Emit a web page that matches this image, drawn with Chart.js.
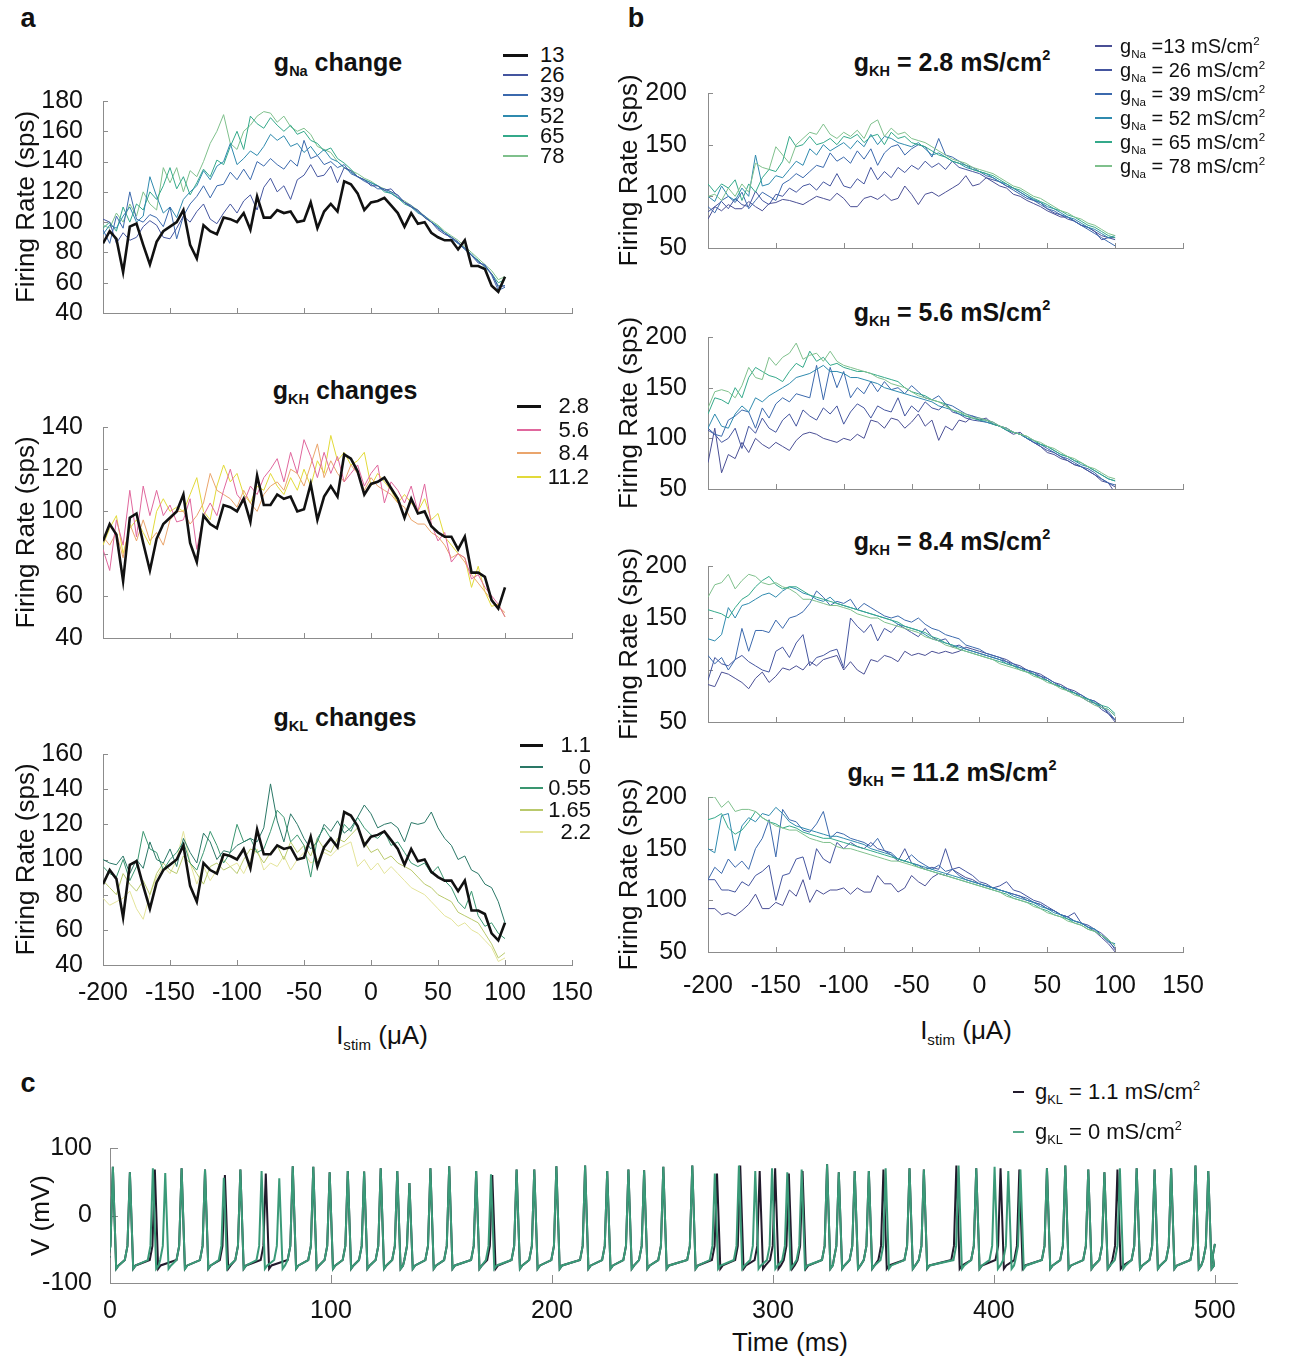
<!DOCTYPE html>
<html>
<head>
<meta charset="utf-8">
<script src="https://cdn.jsdelivr.net/npm/chart.js@4"></script>
<style>
  body { margin: 0; background: #fff; width: 1291px; height: 1358px; position: relative; overflow: hidden;
         font-family: "Liberation Sans", Arial, sans-serif; color: #111; }
  .box { position: absolute; }
  .txt { position: absolute; white-space: nowrap; line-height: 1; }
  .c { transform: translate(-50%, -50%); }
  .ttl { font-weight: bold; font-size: 25px; }
  .lab { font-weight: bold; font-size: 27px; }
  sub { font-size: 0.58em; vertical-align: -0.4em; line-height: 0; }
  sup { font-size: 0.58em; vertical-align: 0.7em; line-height: 0; }
</style>
</head>
<body>

<div class="txt lab c" style="left:28px;top:18px">a</div>
<div class="txt lab c" style="left:636px;top:18px">b</div>
<div class="txt lab c" style="left:28px;top:1083px">c</div>

<div class="txt ttl c" style="left:338px;top:62px">g<sub>Na</sub> change</div>
<div class="txt ttl c" style="left:345px;top:390px">g<sub>KH</sub> changes</div>
<div class="txt ttl c" style="left:345px;top:717px">g<sub>KL</sub> changes</div>
<div class="txt ttl c" style="left:952px;top:62px">g<sub>KH</sub> = 2.8 mS/cm<sup>2</sup></div>
<div class="txt ttl c" style="left:952px;top:312px">g<sub>KH</sub> = 5.6 mS/cm<sup>2</sup></div>
<div class="txt ttl c" style="left:952px;top:541px">g<sub>KH</sub> = 8.4 mS/cm<sup>2</sup></div>
<div class="txt ttl c" style="left:952px;top:772px">g<sub>KH</sub> = 11.2 mS/cm<sup>2</sup></div>

<div class="txt c" style="left:382px;top:1035px;font-size:26px">I<sub>stim</sub> (μA)</div>
<div class="txt c" style="left:966px;top:1030px;font-size:26px">I<sub>stim</sub> (μA)</div>
<div class="txt c" style="left:790px;top:1342px;font-size:26px">Time (ms)</div>

<div class="box" id="boxA1"><canvas id="chartA1"></canvas></div>
<div class="box" id="boxA2"><canvas id="chartA2"></canvas></div>
<div class="box" id="boxA3"><canvas id="chartA3"></canvas></div>
<div class="box" id="boxB1"><canvas id="chartB1"></canvas></div>
<div class="box" id="boxB2"><canvas id="chartB2"></canvas></div>
<div class="box" id="boxB3"><canvas id="chartB3"></canvas></div>
<div class="box" id="boxB4"><canvas id="chartB4"></canvas></div>
<div class="box" id="boxC"><canvas id="chartC"></canvas></div>

<script>
// ---------- Data ----------
const I_STIM = [-200,-195,-190,-185,-180,-175,-170,-165,-160,-155,
  -150,-145,-140,-135,-130,-125,-120,-115,-110,-105,
  -100,-95,-90,-85,-80,-75,-70,-65,-60,-55,
  -50,-45,-40,-35,-30,-25,-20,-15,-10,-5,
  0,5,10,15,20,25,30,35,40,45,
  50,55,60,65,70,75,80,85,90,95,
  100];

// tick labels
const X_TICKS_RATE = [-200, -150, -100, -50, 0, 50, 100, 150];
const Y_TICKS_A1 = [40, 60, 80, 100, 120, 140, 160, 180];
const Y_TICKS_A2 = [40, 60, 80, 100, 120, 140];
const Y_TICKS_A3 = [40, 60, 80, 100, 120, 140, 160];
const Y_TICKS_B = [50, 100, 150, 200];
const X_TICKS_TIME = [0, 100, 200, 300, 400, 500];
const Y_TICKS_V = [-100, 0, 100];

// default model (gNa 13, gKH 2.8, gKL 1.1) - black line in panel a
const rateDefault = [86,94,89,67,97,99,85,72,87,94,
  97,100,108,85,76,98,94,92,103,102,
  100,106,95,117,103,103,108,106,107,100,
  101,113,96,107,112,107,127,125,119,108,
  113,114,116,111,106,97,106,99,100,93,
  90,88,88,82,88,71,71,69,58,54,
  64];

// panel a, gNa changes
const a1Na26 = [102,100,86,93,88,90,97,101,98,90, 89,96,104,100,107,112,102,99,106,112,
  106,114,118,108,123,129,120,124,115,128, 131,138,130,131,137,126,136,134,130,128,
  124,124,121,122,117,113,110,108,103,100, 95,92,90,87,82,78,74,71,66,57, 58];
const a1Na39 = [95,86,104,96,120,102,100,105,103,97, 110,89,104,112,117,124,116,124,125,133,
  128,135,128,140,137,142,138,135,141,137, 154,142,144,138,140,136,138,132,130,127,
  125,122,122,120,118,113,111,107,104,100, 96,93,89,86,83,78,73,72,65,55, 57];
const a1Na52 = [92,98,96,104,110,100,104,130,117,106, 110,103,115,120,124,134,128,137,140,152,
  138,142,147,144,150,158,154,157,150,152, 146,150,144,148,142,140,136,133,130,128,
  126,124,121,119,116,113,110,106,104,100, 97,93,90,86,82,79,74,71,66,58, 58];
const a1Na65 = [96,100,94,110,100,112,108,120,115,124, 136,122,130,118,126,135,130,141,138,150,
  160,148,170,165,162,169,164,160,164,158, 160,154,152,147,149,142,139,135,130,128,
  126,124,120,119,116,112,110,107,103,100, 97,93,90,86,83,78,75,70,66,60, 62];
const a1Na78 = [98,96,106,100,112,104,120,112,108,136, 126,136,120,134,130,140,152,160,171,152,
  148,160,164,170,173,172,166,170,163,160, 162,158,150,148,146,140,136,134,132,129,
  127,124,122,120,116,114,111,108,104,101, 98,94,91,88,84,80,76,72,68,62, 64];

// panel a, gKH changes
const a2KH56 = [82,72,96,84,110,88,112,98,110,98, 103,95,96,106,82,98,104,98,110,120,
  108,104,112,108,116,120,125,114,128,118, 134,126,116,128,118,126,114,118,122,112,
  118,122,104,114,110,104,112,100,113,94, 86,90,76,80,78,68,70,64,60,56, 50];
const a2KH84 = [88,84,90,78,94,86,96,86,90,84, 96,100,100,94,98,104,118,110,108,106,
  102,110,104,100,108,112,114,110,120,118, 112,122,132,116,124,118,114,122,118,110,
  116,112,110,108,104,102,96,94,94,90, 88,84,78,80,76,70,66,62,58,55, 52];
const a2KH112 = [84,92,98,80,92,96,90,84,100,106, 100,102,100,108,116,100,96,112,122,114,
  118,108,104,112,110,118,112,108,116,110, 120,112,124,118,136,124,128,122,124,128,
  112,118,114,110,104,108,104,100,106,96, 99,88,84,80,78,64,74,62,55,56, 50];

// panel a, gKL changes
const a3KL0 = [100,98,97,102,92,100,95,110,100,98, 106,96,112,104,98,115,110,100,105,104,
  108,110,112,110,118,143,122,110,126,120, 112,106,110,120,116,122,115,118,124,131,
  126,118,120,121,118,110,121,120,121,127, 118,112,108,100,102,94,92,86,84,76, 64];
const a3KL055 = [96,92,90,100,88,96,116,106,104,94, 100,104,110,98,94,104,116,108,98,104,
  120,110,112,104,106,116,128,124,110,114, 108,90,112,118,112,108,120,116,124,118,
  114,112,116,108,110,104,98,96,98,92, 96,88,84,76,72,82,68,62,64,58, 55];
const a3KL165 = [88,84,80,92,86,82,88,80,92,98, 94,92,102,98,92,86,96,98,94,96,
  92,100,106,104,98,104,108,100,110,104, 108,102,112,106,104,112,110,114,118,110,
  104,106,100,102,98,96,94,90,86,84, 80,78,76,70,68,66,64,58,52,44, 47];
const a3KL22 = [78,74,76,78,82,72,66,80,90,96, 92,100,116,98,86,96,88,94,100,96,
  98,92,100,106,94,98,96,102,94,100, 104,98,100,104,102,106,108,110,96,100,
  94,98,92,96,92,88,84,82,80,76, 72,68,66,62,64,60,58,54,50,42, 44];

// panel b, gKH = 2.8
const b1Na13 = [78,90,86,92,88,88,95,90,86,93, 94,97,96,94,92,96,100,98,96,103,
  98,90,90,98,100,97,102,96,98,110, 102,92,102,104,100,104,108,112,120,110,
  112,118,114,110,108,102,100,96,93,90, 86,83,80,80,76,72,70,66,62,60, 58];
const b1Na26 = [85,90,95,88,98,92,90,105,96,92, 102,100,108,104,110,112,106,114,110,122,
  110,108,117,112,128,116,124,118,128,123, 130,126,134,128,132,126,134,128,126,124,
  122,118,116,114,110,108,104,100,96,94, 88,84,82,78,76,72,70,66,58,60, 60];
const b1Na39 = [90,84,96,100,94,104,88,96,104,100, 96,112,116,122,118,124,130,128,142,134,
  138,132,144,136,146,130,142,148,150,140, 146,150,148,138,156,140,138,134,130,128,
  124,120,118,114,110,106,102,98,96,92, 88,86,82,80,76,72,68,64,60,56, 52];
const b1Na52 = [100,95,110,100,96,108,100,140,110,112, 120,118,126,134,130,146,140,150,144,148,
  152,146,154,148,160,150,158,156,152,150, 148,152,146,140,142,138,134,132,128,126,
  124,122,118,114,112,108,104,100,97,94, 90,88,84,80,78,74,70,68,64,60, 62];
const b1Na65 = [112,104,112,108,116,96,112,104,118,126, 124,134,158,148,150,158,150,152,156,150,
  158,156,160,152,158,160,150,162,156,158, 152,150,148,144,140,138,134,132,130,126,
  124,122,120,116,112,108,106,102,98,95, 92,88,86,82,80,76,72,70,66,62, 60];
const b1Na78 = [100,102,96,108,100,112,104,132,128,126, 148,140,132,150,156,162,160,170,160,156,
  162,158,164,156,170,174,158,166,160,162, 156,154,152,148,144,140,136,134,132,128,
  126,124,122,118,114,110,108,104,100,98, 94,90,86,84,80,78,74,72,68,64, 62];

// panel b, gKH = 5.6
const b2Na13 = [76,110,66,84,80,96,86,100,94,90, 96,92,88,98,104,106,104,100,98,96,
  100,98,104,100,118,116,110,120,118,110, 116,124,112,118,98,112,108,118,116,122,
  118,120,114,112,108,104,106,100,96,92, 86,84,80,78,74,72,68,64,58,56, 46];
const b2Na26 = [108,104,96,100,110,90,112,105,120,110, 106,118,124,112,128,122,118,130,124,132,
  114,126,134,130,120,132,128,126,140,122, 132,126,136,130,128,134,126,124,120,118,
  117,116,114,112,110,106,104,100,96,92, 88,86,82,78,74,72,68,64,60,56, 52];
const b2Na39 = [110,104,102,118,122,128,126,110,130,120, 134,140,136,144,142,140,172,138,170,150,
  166,140,150,144,156,146,156,148,150,144, 152,146,140,138,142,134,132,128,124,122,
  120,118,116,112,110,106,104,100,96,94, 90,86,82,80,76,72,70,66,60,56, 54];
const b2Na52 = [110,124,112,110,124,132,126,140,136,142, 146,150,154,160,162,164,168,172,166,166,
  164,160,160,158,156,154,150,148,146,144, 142,140,138,136,132,130,128,124,122,120,
  118,116,114,112,108,106,104,100,98,94, 92,88,84,82,78,74,72,68,64,60, 58];
const b2Na65 = [124,140,138,134,150,140,160,170,166,162, 160,156,166,174,170,186,176,180,172,174,
  170,168,166,166,164,162,160,158,156,150, 146,144,142,138,136,134,128,126,122,120,
  118,118,114,112,108,106,104,102,98,94, 92,88,84,82,78,76,72,68,64,60, 58];
const b2Na78 = [130,146,148,146,140,152,170,160,158,180, 172,180,184,194,178,182,184,176,186,176,
  172,170,168,166,164,160,158,154,152,150, 146,142,140,138,136,132,128,126,124,120,
  120,118,116,112,110,106,104,102,98,96, 92,90,86,82,80,76,72,70,66,62, 60];

// panel b, gKH = 8.4
const b3Na13 = [86,84,98,96,92,88,82,92,98,88, 94,102,100,104,100,108,104,110,112,114,
  100,108,100,96,110,108,114,112,108,118, 114,116,114,118,116,118,116,118,122,120,
  118,116,114,112,110,106,104,100,98,96, 92,88,86,82,80,76,72,70,66,58, 50];
const b3Na26 = [90,112,106,104,110,114,108,104,100,98, 118,122,112,126,134,104,112,114,118,120,
  102,150,142,136,144,128,140,136,144,140, 136,132,140,132,128,130,122,124,120,118,
  116,114,112,110,108,104,102,100,96,94, 90,86,84,80,78,74,70,68,62,58, 52];
const b3Na39 = [114,106,112,100,110,140,118,138,138,136, 148,140,150,152,156,164,176,170,162,166,
  164,168,158,164,160,156,152,150,152,148, 146,150,144,140,138,134,132,130,124,122,
  120,116,114,112,108,106,102,100,98,94, 92,88,84,82,78,76,72,70,64,60, 52];
const b3Na52 = [130,128,134,160,150,162,164,168,172,174, 170,176,180,178,174,172,168,166,170,164,
  162,160,158,156,154,152,150,148,144,142, 140,138,134,130,128,126,124,122,120,118,
  116,114,112,110,106,104,102,98,96,92, 90,86,84,80,78,74,72,68,64,62, 56];
const b3Na65 = [158,156,154,150,160,168,172,180,186,190, 182,178,180,180,176,172,170,168,166,164,
  162,160,158,156,154,152,150,148,146,142, 140,138,136,132,130,126,124,120,118,116,
  114,112,110,108,106,104,100,98,96,92, 90,86,84,80,78,74,72,68,66,64, 58];
const b3Na78 = [170,182,184,192,178,186,192,190,184,182, 184,180,178,174,168,168,166,164,162,162,
  160,158,154,152,150,150,146,144,142,140, 138,136,132,130,128,124,122,120,118,116,
  114,112,110,106,104,102,100,98,94,92, 88,86,82,80,76,74,70,66,64,62, 56];

// panel b, gKH = 11.2
const b4Na13 = [92,92,86,88,85,90,96,106,92,92, 98,95,110,104,120,98,110,106,110,110,
  112,106,112,108,108,124,116,116,108,112, 124,118,114,122,126,124,130,126,122,120,
  116,114,112,110,108,106,104,100,98,96, 92,90,86,84,80,78,74,70,64,58, 50];
const b4Na26 = [120,120,110,110,108,118,114,124,128,134, 100,124,126,140,142,120,150,140,136,156,
  150,156,152,150,156,150,148,144,138,150, 136,134,130,132,130,150,130,132,128,124,
  118,116,112,114,118,110,108,104,100,98, 94,90,86,84,88,78,76,72,68,62, 52];
const b4Na39 = [120,132,126,140,132,138,130,150,160,178, 142,188,178,176,168,166,174,186,160,166,
  164,160,158,156,152,160,148,146,140,138, 144,138,134,130,134,128,130,124,120,118,
  116,114,112,110,108,106,104,102,98,96, 92,90,86,84,80,78,74,72,66,60, 54];
const b4Na52 = [150,146,182,184,148,172,180,176,184,182, 190,184,176,172,170,168,166,164,162,162,
  160,158,156,154,150,148,146,144,140,138, 136,134,132,130,128,126,124,122,120,118,
  116,114,112,110,108,104,102,100,98,94, 92,88,86,82,80,78,74,72,66,60, 58];
const b4Na65 = [178,180,184,170,164,168,176,186,180,176, 174,170,172,170,166,164,162,160,160,158,
  156,154,152,150,148,146,144,142,140,138, 136,132,130,128,126,124,122,120,118,116,
  114,112,110,108,106,102,100,98,96,92, 90,86,84,82,78,76,72,70,66,62, 56];
const b4Na78 = [200,200,190,196,186,188,188,186,180,176, 172,170,168,168,164,160,158,156,156,152,
  150,150,148,146,144,142,140,138,138,136, 134,132,130,128,126,124,122,120,118,116,
  114,112,110,108,104,102,100,98,94,92, 88,86,84,80,78,76,72,70,66,62, 56];

// panel c, spike times (ms) and peak voltages (mV)
const spikeT_KL0 = [1.3,9,19.4,25,32.4,43,51.5,59,68.6,76.6, 82.7,92,99.4,107.6,115,122.5,130,135.5,145,153.5,
  165.7,172.4,184,192,202,215,225,234.6,241.7,250.4, 263.5,273.7,284.6,292,299.6,306.5,313,324.5,329.8,337,
  343.4,351,361.8,368.3,384,392,400.3,406.5,412,424, 432.3,442.7,450,457,464.6,472.7,480.2,491.2,497];
const spikeV_KL0 = [72,64,70,63,70,68,56,68,66,55, 73,72,64,66,65,70,66,48,70,73,
  66,61,68,68,73,74,66,68,67,72, 74,62,74,66,70,64,68,76,64,66,
  66,70,70,68,74,70,72,66,68,70, 74,68,64,70,70,68,70,74,66];
const spikeT_KL11 = [1.3,9,20.3,32.4,43,52,59,70.5,82.7,92, 99.4,107.6,115,122.5,130,135.5,145,153.5,165.7,173,
  184,192,202,215,225,234.6,241.7,250.4,263.5,274.7, 285.2,294,301,307.2,313.4,324.5,329.8,337,343.4,350,
  361.8,368.3,383,392,403,411.5,424,432.3,442.7,450, 455.9,464.6,472.7,480.2,491.2,497];
const spikeV_KL11 = [72,64,68,70,68,60,68,62,73,72, 64,66,65,70,66,48,70,73,66,60,
  68,68,73,74,66,68,67,72,74,62, 74,66,70,62,66,76,64,66,66,68,
  70,68,74,70,70,68,70,74,68,64, 68,70,68,70,74,66];

// ---------- Helpers ----------
const FONT = '"Liberation Sans", Arial, sans-serif';
Chart.defaults.font.family = FONT;
Chart.defaults.color = '#111';

// inward tick marks on both axes
Chart.register({
  id: 'inTicks',
  defaults: { len: 5 },
  beforeDatasetsDraw(chart, args, opts) {
    const { ctx } = chart;
    const x = chart.scales.x, y = chart.scales.y;
    ctx.save();
    ctx.strokeStyle = '#8c8c8c';
    ctx.lineWidth = 1;
    ctx.beginPath();
    x.ticks.forEach(t => {
      const px = Math.round(x.getPixelForValue(t.value)) + 0.5;
      ctx.moveTo(px, x.top); ctx.lineTo(px, x.top - opts.len);
    });
    y.ticks.forEach(t => {
      const py = Math.round(y.getPixelForValue(t.value)) + 0.5;
      ctx.moveTo(y.right, py); ctx.lineTo(y.right + opts.len, py);
    });
    ctx.stroke();
    ctx.restore();
  }
});

function place(id, area, pad) {
  const box = document.getElementById(id);
  box.style.left = (area.l - pad.yW) + 'px';
  box.style.top = (area.t - pad.top) + 'px';
  box.style.width = (area.r - area.l + pad.yW + pad.right) + 'px';
  box.style.height = (area.b - area.t + pad.top + pad.xH) + 'px';
}

// no extra room for overflowing tick labels: the chart area stays where we put it
function noPad(s) {
  s.paddingTop = 0; s.paddingBottom = 0; s.paddingLeft = 0; s.paddingRight = 0;
}

function pts(xs, ys) {
  return xs.map((x, i) => ({ x: x, y: ys[i] }));
}

function makeChart(canvasId, boxId, area, pad, datasets, o) {
  place(boxId, area, pad);
  return new Chart(document.getElementById(canvasId), {
    type: 'line',
    data: { datasets: datasets },
    options: {
      responsive: true,
      maintainAspectRatio: false,
      animation: false,
      layout: { autoPadding: false, padding: { top: pad.top, right: pad.right, left: 0, bottom: 0 } },
      elements: { point: { radius: 0 }, line: { tension: 0 } },
      plugins: { legend: { display: false }, tooltip: { enabled: false }, inTicks: { len: o.tickLen || 5 } },
      scales: {
        x: {
          type: 'linear', min: o.xMin, max: o.xMax,
          grid: { display: false },
          border: { display: true, color: '#8c8c8c', width: 1 },
          ticks: { display: !!o.xLabels, autoSkip: false, maxRotation: 0, minRotation: 0,
                   padding: o.xPad || 10, font: { size: 25 }, color: '#111' },
          afterBuildTicks: s => { s.ticks = o.xTicks.map(v => ({ value: v })); },
          afterFit: s => { s.height = pad.xH; noPad(s); }
        },
        y: {
          min: o.yMin, max: o.yMax,
          grid: { display: false },
          border: { display: true, color: '#8c8c8c', width: 1 },
          ticks: { autoSkip: false, padding: o.yPad, font: { size: 25 }, color: '#111' },
          afterBuildTicks: s => { s.ticks = o.yTicks.map(v => ({ value: v })); },
          title: { display: true, text: o.yTitle, font: { size: 26 }, color: '#111', padding: { top: o.titlePad, bottom: 0 } },
          afterFit: s => { s.width = pad.yW; noPad(s); }
        }
      }
    }
  });
}

function line(vals, color, width) {
  return { data: pts(I_STIM, vals), borderColor: color, borderWidth: width, pointRadius: 0, fill: false };
}

function legend(items, o) {
  items.forEach((it, i) => {
    const y = o.y0 + i * o.dy;
    const ln = document.createElement('div');
    ln.style.cssText = 'position:absolute;left:' + o.lx + 'px;top:' + (y - it.w / 2) + 'px;width:' + o.lw +
      'px;height:' + it.w + 'px;background:' + it.color;
    document.body.appendChild(ln);
    const tx = document.createElement('div');
    tx.className = 'txt';
    tx.innerHTML = it.label;
    tx.style.fontSize = o.size + 'px';
    tx.style.top = y + 'px';
    tx.style.transform = 'translateY(-50%)';
    if (o.right) tx.style.right = (1291 - o.tx) + 'px'; else tx.style.left = o.tx + 'px';
    document.body.appendChild(tx);
  });
}

// ---------- Panel a ----------
const NA_COL = ['#4a4f95', '#44559f', '#3b69ad', '#2f8aae', '#34a98a', '#7fc08c'];
const padA = { yW: 103, top: 14, right: 32, xH: 14 };
const optA = { xMin: -200, xMax: 150, xTicks: X_TICKS_RATE, yPad: 12, yTitle: 'Firing Rate (sps)', titlePad: 11 };

makeChart('chartA1', 'boxA1', { l: 103, r: 572, t: 101, b: 313 }, padA, [
  line(rateDefault, '#111', 2.6),
  line(a1Na26, NA_COL[1], 1), line(a1Na39, NA_COL[2], 1), line(a1Na52, NA_COL[3], 1),
  line(a1Na65, NA_COL[4], 1), line(a1Na78, NA_COL[5], 1)
], Object.assign({}, optA, { yMin: 40, yMax: 180, yTicks: Y_TICKS_A1 }));

const KH_COL = ['#111', '#e0679d', '#eaa56c', '#e2da3a'];
makeChart('chartA2', 'boxA2', { l: 103, r: 572, t: 427, b: 638 }, padA, [
  line(rateDefault, KH_COL[0], 2.6),
  line(a2KH56, KH_COL[1], 1), line(a2KH84, KH_COL[2], 1), line(a2KH112, KH_COL[3], 1)
], Object.assign({}, optA, { yMin: 40, yMax: 140, yTicks: Y_TICKS_A2 }));

const KL_COL = ['#111', '#2a7766', '#3a9670', '#b9c96c', '#e4e49a'];
makeChart('chartA3', 'boxA3', { l: 103, r: 572, t: 754, b: 965 }, Object.assign({}, padA, { xH: 60 }), [
  line(rateDefault, KL_COL[0], 2.6),
  line(a3KL0, KL_COL[1], 1), line(a3KL055, KL_COL[2], 1), line(a3KL165, KL_COL[3], 1), line(a3KL22, KL_COL[4], 1)
], Object.assign({}, optA, { yMin: 40, yMax: 160, yTicks: Y_TICKS_A3, xLabels: true, xPad: 5 }));

legend(['13', '26', '39', '52', '65', '78'].map((l, i) => ({ label: l, color: i === 0 ? '#111' : NA_COL[i], w: i === 0 ? 3 : 2 })),
  { lx: 503, lw: 25, tx: 540, y0: 55, dy: 20.2, size: 22 });
legend(['2.8', '5.6', '8.4', '11.2'].map((l, i) => ({ label: l, color: KH_COL[i], w: i === 0 ? 3 : 2 })),
  { lx: 517, lw: 24, tx: 589, right: true, y0: 406, dy: 23.5, size: 22 });
legend(['1.1', '0', '0.55', '1.65', '2.2'].map((l, i) => ({ label: l, color: KL_COL[i], w: i === 0 ? 3 : 2 })),
  { lx: 520, lw: 23, tx: 591, right: true, y0: 745, dy: 21.7, size: 22 });

// ---------- Panel b ----------
const padB = { yW: 98, top: 40, right: 32, xH: 30 };
const optB = { xMin: -200, xMax: 150, xTicks: X_TICKS_RATE, yMin: 50, yMax: 200, yTicks: Y_TICKS_B, yPad: 13,
  yTitle: 'Firing Rate (sps)', titlePad: 4.4 };
function naLines(list) {
  return list.map((v, i) => line(v, NA_COL[i], 1)).reverse();
}
makeChart('chartB1', 'boxB1', { l: 708, r: 1183, t: 93, b: 248 }, padB,
  naLines([b1Na13, b1Na26, b1Na39, b1Na52, b1Na65, b1Na78]), optB);
makeChart('chartB2', 'boxB2', { l: 708, r: 1183, t: 337, b: 489 }, padB,
  naLines([b2Na13, b2Na26, b2Na39, b2Na52, b2Na65, b2Na78]), optB);
makeChart('chartB3', 'boxB3', { l: 708, r: 1183, t: 566, b: 722 }, padB,
  naLines([b3Na13, b3Na26, b3Na39, b3Na52, b3Na65, b3Na78]), optB);
makeChart('chartB4', 'boxB4', { l: 708, r: 1183, t: 797, b: 952 }, Object.assign({}, padB, { xH: 60 }),
  naLines([b4Na13, b4Na26, b4Na39, b4Na52, b4Na65, b4Na78]), Object.assign({}, optB, { xLabels: true, xPad: 11 }));

const NA_LEG = ['g<sub>Na</sub> =13 mS/cm<sup>2</sup>', 'g<sub>Na</sub> = 26 mS/cm<sup>2</sup>', 'g<sub>Na</sub> = 39 mS/cm<sup>2</sup>',
  'g<sub>Na</sub> = 52 mS/cm<sup>2</sup>', 'g<sub>Na</sub> = 65 mS/cm<sup>2</sup>', 'g<sub>Na</sub> = 78 mS/cm<sup>2</sup>'];
legend(NA_LEG.map((l, i) => ({ label: l, color: NA_COL[i], w: 2 })),
  { lx: 1095, lw: 17, tx: 1120, y0: 46, dy: 24, size: 20 });

// ---------- Panel c ----------
function spikeTrace(times, peaks) {
  const out = [{ x: 0, y: -60 }];
  times.forEach((t, i) => {
    out.push({ x: t - 2.3, y: -66 }, { x: t - 1.1, y: -45 }, { x: t, y: peaks[i] }, { x: t + 1.5, y: -79 }, { x: t + 2.6, y: -74 });
  });
  out.push({ x: 499, y: -60 }, { x: 500, y: -42 });
  return out;
}
const GREEN = '#3a9a78', DARK = '#221a2c';
makeChart('chartC', 'boxC', { l: 110, r: 1237, t: 1148, b: 1283 }, { yW: 110, top: 14, right: 30, xH: 50 }, [
  { data: spikeTrace(spikeT_KL0, spikeV_KL0), borderColor: GREEN, borderWidth: 2, pointRadius: 0 },
  { data: spikeTrace(spikeT_KL11, spikeV_KL11), borderColor: DARK, borderWidth: 2, pointRadius: 0 }
], { xMin: 0, xMax: 510, xTicks: X_TICKS_TIME, xLabels: true, xPad: 5, yMin: -100, yMax: 100, yTicks: Y_TICKS_V, yPad: 10,
     yTitle: 'V (mV)', titlePad: 26, tickLen: 8 });

legend(['g<sub>KL</sub> = 1.1 mS/cm<sup>2</sup>', 'g<sub>KL</sub> = 0 mS/cm<sup>2</sup>'].map((l, i) => ({ label: l, color: i === 0 ? DARK : '#55a98a', w: 2 })),
  { lx: 1013, lw: 11, tx: 1035, y0: 1092, dy: 40, size: 22 });
</script>
</body>
</html>
